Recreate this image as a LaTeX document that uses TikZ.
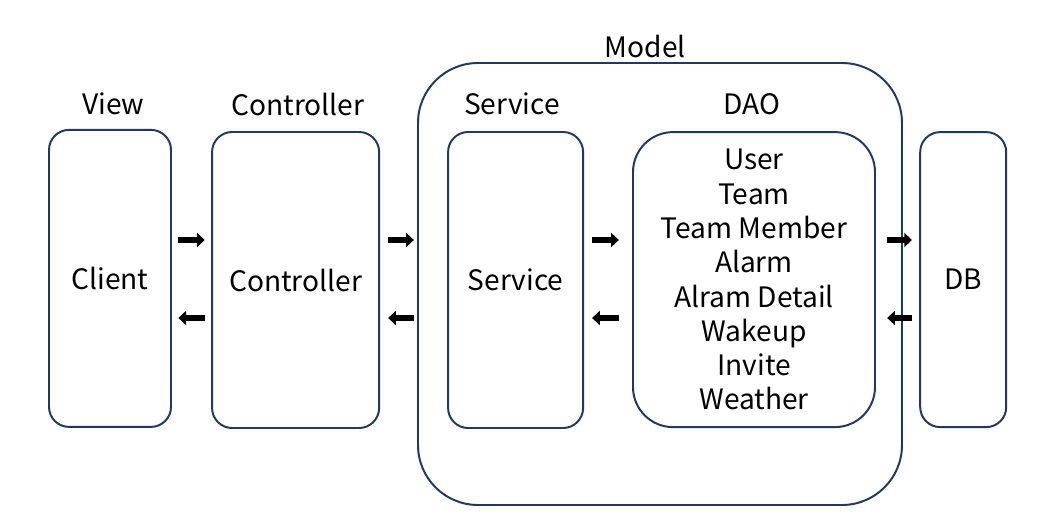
\documentclass[tikz,border=0pt]{standalone}
\usepackage{fontspec}
\setmainfont{Noto Sans CJK KR}
\usetikzlibrary{positioning, arrows.meta}

\definecolor{boxline}{RGB}{31,56,100}

\begin{document}
\begin{tikzpicture}[
    txt/.style={font=\fontsize{20}{24.4}\selectfont, align=center},
    layer/.style={
        draw=boxline, line width=1.4pt, rectangle, rounded corners=0.5cm,
        inner sep=0pt, txt
    },
    flow/.style={
        line width=4pt, -{Triangle[length=5.5pt, width=10pt]}
    }
]

% frame
\useasboundingbox (0,0) rectangle (26.2,-13.25);

% -------------------------
% Layer Boxes
% -------------------------

% Model (outer)
\node[layer, rounded corners=1.5cm, minimum width=12.1cm, minimum height=11.05cm] (Model) at (16.5, -7.1) {};

% View
\node[layer, minimum width=3.05cm, minimum height=7.425cm] (Client) at (2.75, -6.96) {Client};

% Controller
\node[layer, minimum width=4.175cm, minimum height=7.4cm] (Controller) at (7.39, -7.0) {Controller};

% Service
\node[layer, minimum width=3.375cm, minimum height=7.4cm] (Service) at (12.89, -7.0) {Service};

% DAO
\node[layer, rounded corners=1cm, minimum width=6.05cm, minimum height=7.375cm, text depth=-0.15cm] (DAO) at (18.85, -6.99) {
    User \\
    Team \\
    Team Member \\
    Alarm \\
    Alram Detail \\
    Wakeup \\
    Invite \\
    Weather
};

% DB
\node[layer, minimum width=2.15cm, minimum height=7.375cm] (DB) at (24.08, -6.99) {DB};

% -------------------------
% Titles
% -------------------------
\node[txt] (ViewTitle) at (2.83, -2.6) {View};
\node[txt] (ControllerTitle) at (7.45, -2.6) {Controller};
\node[txt] (ModelTitle) at (16.13, -1.15) {Model};
\node[txt] (ServiceTitle) at (12.8, -2.6) {Service};
\node[txt] (DAOTitle) at (18.8, -2.6) {DAO};

% -------------------------
% Request / Response Arrows
% -------------------------

% Client <-> Controller
\draw[flow, shorten <=0.16cm, shorten >=0.16cm] (Client.east |- 0,-6) -- (Controller.west |- 0,-6);
\draw[flow, shorten <=0.16cm, shorten >=0.16cm] (Controller.west |- 0,-7.95) -- (Client.east |- 0,-7.95);

% Controller <-> Model
\draw[flow, shorten <=0.2cm, shorten >=0.08cm] (Controller.east |- 0,-6) -- (Model.west |- 0,-6);
\draw[flow, shorten <=0.08cm, shorten >=0.2cm] (Model.west |- 0,-7.95) -- (Controller.east |- 0,-7.95);

% Service <-> DAO
\draw[flow, shorten <=0.2cm, shorten >=0.33cm] (Service.east |- 0,-6) -- (DAO.west |- 0,-6);
\draw[flow, shorten <=0.33cm, shorten >=0.2cm] (DAO.west |- 0,-7.95) -- (Service.east |- 0,-7.95);

% DAO <-> DB
\draw[flow, shorten <=0.28cm, shorten >=0.18cm] (DAO.east |- 0,-6) -- (DB.west |- 0,-6);
\draw[flow, shorten <=0.18cm, shorten >=0.28cm] (DB.west |- 0,-7.95) -- (DAO.east |- 0,-7.95);

\end{tikzpicture}
\end{document}
